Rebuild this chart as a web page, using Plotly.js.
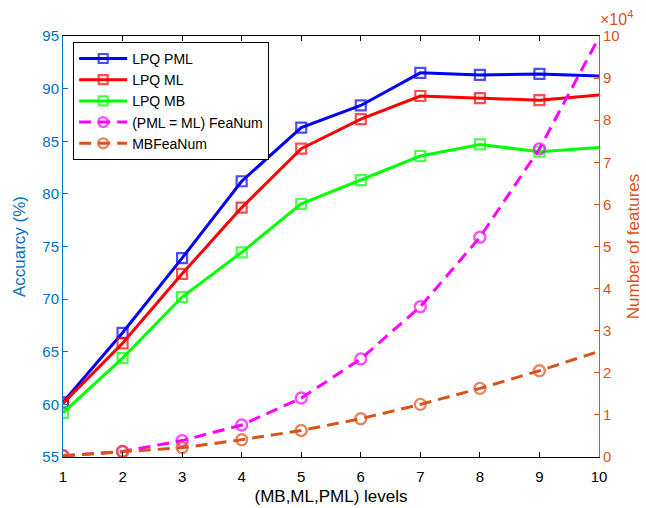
<!DOCTYPE html>
<html>
<head>
<meta charset="utf-8">
<script src="https://cdn.plot.ly/plotly-3.0.1.min.js"></script>
<style>html,body{margin:0;padding:0;background:#fff;}#chart{width:646px;height:508px;}</style>
</head>
<body>
<div id="chart"></div>
<script>
// x categories: (MB,ML,PML) levels
const levels = [1, 2, 3, 4, 5, 6, 7, 8, 9, 10];
// Accuracy (%) - left axis
const lpqPML = [60.2, 66.8, 73.9, 81.2, 86.3, 88.4, 91.5, 91.3, 91.4, 91.2];
const lpqML  = [60.1, 65.8, 72.4, 78.7, 84.3, 87.1, 89.3, 89.1, 88.9, 89.4];
const lpqMB  = [59.2, 64.4, 70.2, 74.45, 79.05, 81.3, 83.6, 84.7, 84.0, 84.4];
// Number of features (x10^4) - right axis
const pmlMlFeaNum = [0.03, 0.13, 0.39, 0.76, 1.40, 2.33, 3.57, 5.22, 7.32, 9.97];
const mbFeaNum    = [0.03, 0.13, 0.22, 0.41, 0.63, 0.91, 1.25, 1.63, 2.05, 2.51];
const seriesNames = ['LPQ PML', 'LPQ ML', 'LPQ MB', '(PML = ML) FeaNum', 'MBFeaNum'];

const FONT = '"Liberation Sans", Arial, Helvetica, sans-serif';
const LEFTC = '#0072BD';
const RIGHTC = '#D95319';
// the last point sits on the right border where the reference shows no marker
const sq = levels.map((v, i) => i === levels.length - 1 ? 0 : 10);
const ci = levels.map((v, i) => i === levels.length - 1 ? 0 : 11);

function accTrace(y, name, color) {
  return {
    x: levels, y: y, name: name, type: 'scatter', mode: 'lines+markers',
    line: {color: color, width: 3},
    marker: {symbol: 'square-open', size: sq, color: color, line: {color: color, width: 2.2}},
    yaxis: 'y'
  };
}
function feaTrace(y, name, color) {
  return {
    x: levels, y: y, name: name, type: 'scatter', mode: 'lines+markers',
    line: {color: color, width: 3, dash: '12px,7px'},
    marker: {symbol: 'circle-open', size: ci, color: color, line: {color: color, width: 2.4}},
    yaxis: 'y2'
  };
}

const data = [
  accTrace(lpqPML, seriesNames[0], '#0000FF'),
  accTrace(lpqML, seriesNames[1], '#FF0000'),
  accTrace(lpqMB, seriesNames[2], '#00FF00'),
  feaTrace(pmlMlFeaNum, seriesNames[3], '#FF00FF'),
  feaTrace(mbFeaNum, seriesNames[4], RIGHTC)
];

const layout = {
  width: 646, height: 508,
  margin: {l: 63, r: 47, t: 36, b: 51, pad: 0},
  paper_bgcolor: '#fff', plot_bgcolor: '#fff',
  font: {family: FONT, size: 15, color: '#000'},
  showlegend: true,
  legend: {
    x: 0.019, y: 0.986, xanchor: 'left', yanchor: 'top',
    bgcolor: '#fff', bordercolor: '#000', borderwidth: 1,
    font: {family: FONT, size: 14, color: '#000'},
    tracegroupgap: 0, itemwidth: 48
  },
  xaxis: {
    range: [1, 10], tickvals: levels, ticktext: levels.map(String),
    showgrid: false, zeroline: false,
    showline: true, linecolor: '#000', linewidth: 1, mirror: 'ticks',
    ticks: 'inside', ticklen: 5, tickcolor: '#000', tickwidth: 1,
    ticklabelstandoff: 6,
    tickfont: {family: FONT, size: 15, color: '#000'},
    title: {text: '(MB,ML,PML) levels', font: {family: FONT, size: 17, color: '#000'}, standoff: 6}
  },
  yaxis: {
    range: [55, 95], tickvals: [55, 60, 65, 70, 75, 80, 85, 90, 95],
    showgrid: false, zeroline: false,
    showline: true, linecolor: LEFTC, linewidth: 1,
    ticks: 'inside', ticklen: 5, tickcolor: LEFTC, tickwidth: 1,
    tickfont: {family: FONT, size: 15, color: LEFTC},
    title: {text: 'Accuarcy (%)', font: {family: FONT, size: 17, color: LEFTC}, standoff: 12}
  },
  yaxis2: {
    range: [0, 10], tickvals: [0, 1, 2, 3, 4, 5, 6, 7, 8, 9, 10],
    overlaying: 'y', side: 'right', anchor: 'x',
    showgrid: false, zeroline: false,
    showline: true, linecolor: RIGHTC, linewidth: 1,
    ticks: 'inside', ticklen: 5, tickcolor: RIGHTC, tickwidth: 1,
    tickfont: {family: FONT, size: 15, color: RIGHTC},
    title: {text: 'Number of features', font: {family: FONT, size: 17, color: RIGHTC}, standoff: 8}
  },
  annotations: [{
    xref: 'paper', yref: 'paper', x: 1, y: 1, xanchor: 'left', yanchor: 'bottom',
    yshift: 6, xshift: -1,
    text: '×10<sup>4</sup>', showarrow: false,
    font: {family: FONT, size: 16, color: RIGHTC}
  }]
};

Plotly.newPlot('chart', data, layout, {displayModeBar: false, staticPlot: true});
</script>
</body>
</html>
